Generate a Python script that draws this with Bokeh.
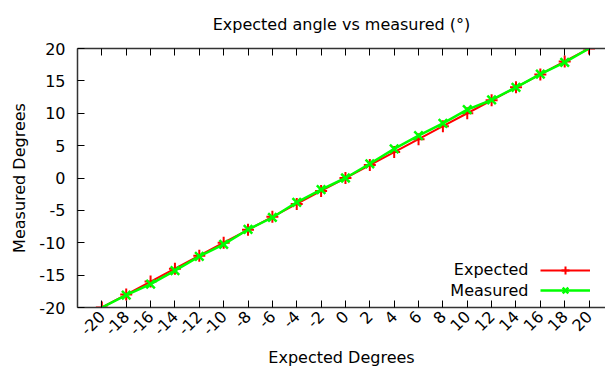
import math
from bokeh.plotting import figure
from bokeh.models import (Range1d, FixedTicker, LinearAxis, Legend, LegendItem, Label)
from bokeh.embed import file_html
from bokeh.resources import INLINE

# ---- data ----
angles = [-20, -18, -16, -14, -12, -10, -8, -6, -4, -2, 0, 2, 4, 6, 8, 10, 12, 14, 16, 18, 20]
expected = [-20, -18, -16, -14, -12, -10, -8, -6, -4, -2, 0, 2, 4, 6, 8, 10, 12, 14, 16, 18, 20]
measured = [-20.0, -18.1, -16.4, -14.3, -12.1, -10.25, -7.95, -6.1, -3.75, -1.8, 0.0,
            2.2, 4.5, 6.55, 8.45, 10.55, 12.05, 14.0, 16.05, 17.85, 20.0]
x_ticks = [-20, -18, -16, -14, -12, -10, -8, -6, -4, -2, 0, 2, 4, 6, 8, 10, 12, 14, 16, 18, 20]
y_ticks = [-20, -15, -10, -5, 0, 5, 10, 15, 20]
title_text = "Expected angle vs measured (°)"
x_label = "Expected Degrees"
y_label = "Measured Degrees"
series_names = ["Expected", "Measured"]

FONT = "DejaVu Sans"
FS = "16px"
BORDER = "#333333"
RED = "#ff0000"
GREEN = "#00ff00"

p = figure(width=605, height=370, output_backend="svg", toolbar_location=None,
           x_range=Range1d(-22, 21.35), y_range=Range1d(-20, 20),
           min_border_left=77, min_border_right=0, min_border_top=48, min_border_bottom=63,
           title=title_text)
p.outline_line_color = None
p.grid.visible = False
p.background_fill_color = "white"
p.border_fill_color = "white"

p.title.align = "center"
p.title.vertical_align = "top"
p.title.text_font = FONT
p.title.text_font_size = FS
p.title.text_font_style = "normal"
p.title.text_color = "black"
p.title.offset = 8
p.title.standoff = 25

for ax in (p.xaxis[0], p.yaxis[0]):
    ax.major_tick_in = 7
    ax.major_tick_out = 0
    ax.minor_tick_in = 0
    ax.minor_tick_out = 0
    ax.axis_line_color = BORDER
    ax.axis_line_width = 1.5
    ax.major_tick_line_color = "black"
    ax.major_label_text_font = FONT
    ax.major_label_text_font_size = FS
    ax.major_label_text_color = "black"
    ax.axis_label_text_font = FONT
    ax.axis_label_text_font_size = FS
    ax.axis_label_text_font_style = "normal"
    ax.axis_label_text_color = "black"

p.xaxis[0].ticker = FixedTicker(ticks=x_ticks)
p.yaxis[0].ticker = FixedTicker(ticks=y_ticks)
p.xaxis[0].major_label_overrides = {t: str(t) for t in x_ticks}
p.yaxis[0].major_label_overrides = {t: str(t) for t in y_ticks}
p.xaxis[0].axis_label = x_label
p.yaxis[0].axis_label = y_label
p.xaxis[0].major_label_orientation = math.pi / 4
p.xaxis[0].major_label_standoff = 6
p.xaxis[0].axis_label_standoff = 5
p.yaxis[0].major_label_standoff = 12
p.yaxis[0].axis_label_standoff = 7

top = LinearAxis(ticker=FixedTicker(ticks=x_ticks))
top.major_tick_in = 7
top.major_tick_out = 0
top.minor_tick_in = 0
top.minor_tick_out = 0
top.axis_line_color = BORDER
top.axis_line_width = 1.5
top.major_label_text_font_size = "0px"
top.major_label_standoff = 0
p.add_layout(top, "above")

# ---- series ----
exp_line = p.line(angles, expected, line_color=RED, line_width=2)
exp_pts = p.scatter(angles, expected, marker="cross", size=12, line_color=RED,
                    line_width=2)
meas_line = p.line(angles, measured, line_color=GREEN, line_width=2.5)
meas_pts = p.scatter(angles[1:-1], measured[1:-1], marker="x", size=12,
                     line_color=GREEN, line_width=2.5)

legend = Legend(items=[LegendItem(label=" ", renderers=[exp_line, exp_pts]),
                       LegendItem(label=" ", renderers=[meas_line, meas_pts])],
                location=(463, 7), glyph_width=50, glyph_height=20, padding=0, margin=0,
                spacing=0, label_standoff=0, border_line_alpha=0, background_fill_alpha=0,
                label_text_font_size="1px")
p.add_layout(legend, "center")

for i, name in enumerate(series_names):
    p.add_layout(Label(x=451, y=38 - 21 * i, x_units="screen", y_units="screen",
                       text=name, text_align="right", text_baseline="middle",
                       text_font=FONT, text_font_size=FS, text_color="black"))

open("out.html", "w").write(file_html(p, INLINE))
